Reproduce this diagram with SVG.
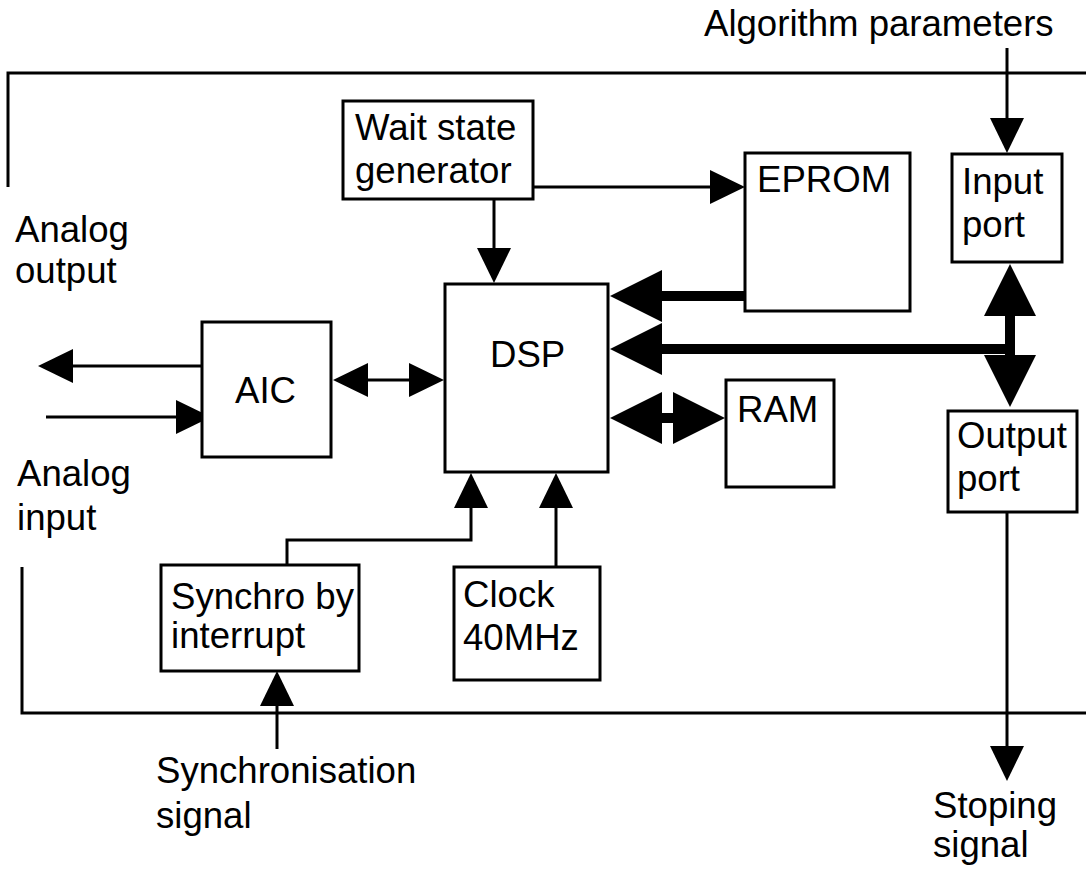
<svg xmlns="http://www.w3.org/2000/svg" width="1086" height="869" viewBox="0 0 1086 869">
<style>
.box{fill:#fff;stroke:#000;stroke-width:3}
.ln{fill:none;stroke:#000;stroke-width:3}
.bus{fill:none;stroke:#000;stroke-width:10}
.t{font-family:"Liberation Sans",Arial,sans-serif;font-size:36.6px;fill:#000}
</style>
<defs>
<marker id="ah" markerUnits="userSpaceOnUse" viewBox="0 0 35 34" refX="1" refY="17" markerWidth="35" markerHeight="34" orient="auto-start-reverse">
<path d="M0,0 L35,17 L0,34 Z" fill="#000"/>
</marker>
<marker id="bh" markerUnits="userSpaceOnUse" viewBox="0 0 52 52" refX="1" refY="26" markerWidth="52" markerHeight="52" orient="auto-start-reverse">
<path d="M0,0 L52,26 L0,52 Z" fill="#000"/>
</marker>
</defs>
<rect width="1086" height="869" fill="#fff"/>
<g id="frame">
<path class="ln" d="M8,187 V73 H1086"/>
<path class="ln" d="M22,567 V713 H1086"/>
</g>
<g id="connectors">
<path class="ln" d="M533,187 H711" marker-end="url(#ah)"/>
<path class="ln" d="M494,199 V249" marker-end="url(#ah)"/>
<path class="bus" d="M745,296 H661" marker-end="url(#bh)"/>
<path class="bus" d="M1012,349 H661" marker-end="url(#bh)"/>
<path class="bus" d="M1010,315 V356" marker-start="url(#bh)" marker-end="url(#bh)"/>
<path class="bus" d="M661,418 H674" marker-start="url(#bh)" marker-end="url(#bh)"/>
<path class="ln" d="M202,366 H72" marker-end="url(#ah)"/>
<path class="ln" d="M46,417 H177" marker-end="url(#ah)"/>
<path class="ln" d="M367,380 H410" marker-start="url(#ah)" marker-end="url(#ah)"/>
<path class="ln" d="M287,565 V540 H471 V507" marker-end="url(#ah)"/>
<path class="ln" d="M556,567 V507" marker-end="url(#ah)"/>
<path class="ln" d="M277,749 V705" marker-end="url(#ah)"/>
<path class="ln" d="M1007,48 V119" marker-end="url(#ah)"/>
<path class="ln" d="M1007,512 V747" marker-end="url(#ah)"/>
</g>
<g id="wait">
<rect class="box" x="343" y="101" width="190" height="98"/>
<text class="t" x="355" y="140">Wait state</text>
<text class="t" x="355" y="183">generator</text>
</g>
<g id="eprom">
<rect class="box" x="745" y="153" width="165" height="158"/>
<text class="t" x="757" y="192">EPROM</text>
</g>
<g id="input-port">
<rect class="box" x="952" y="154" width="110" height="108"/>
<text class="t" x="962" y="194">Input</text>
<text class="t" x="962" y="237">port</text>
</g>
<g id="dsp">
<rect class="box" x="445" y="284" width="163" height="188"/>
<text class="t" x="490" y="367">DSP</text>
</g>
<g id="aic">
<rect class="box" x="202" y="322" width="129" height="135"/>
<text class="t" x="235" y="403">AIC</text>
</g>
<g id="ram">
<rect class="box" x="726" y="380" width="108" height="107"/>
<text class="t" x="737" y="422">RAM</text>
</g>
<g id="output-port">
<rect class="box" x="948" y="411" width="129" height="101"/>
<text class="t" x="957" y="448">Output</text>
<text class="t" x="957" y="491">port</text>
</g>
<g id="synchro">
<rect class="box" x="161" y="565" width="198" height="106"/>
<text class="t" x="171" y="609">Synchro by</text>
<text class="t" x="171" y="648">interrupt</text>
</g>
<g id="clock">
<rect class="box" x="454" y="567" width="146" height="113"/>
<text class="t" x="463" y="607">Clock</text>
<text class="t" x="463" y="650">40MHz</text>
</g>
<g id="labels">
<text class="t" x="704" y="36">Algorithm parameters</text>
<text class="t" x="15" y="242">Analog</text>
<text class="t" x="15" y="283">output</text>
<text class="t" x="17" y="486">Analog</text>
<text class="t" x="17" y="530">input</text>
<text class="t" x="156" y="783">Synchronisation</text>
<text class="t" x="156" y="828">signal</text>
<text class="t" x="933" y="818">Stoping</text>
<text class="t" x="933" y="857">signal</text>
</g>
</svg>
